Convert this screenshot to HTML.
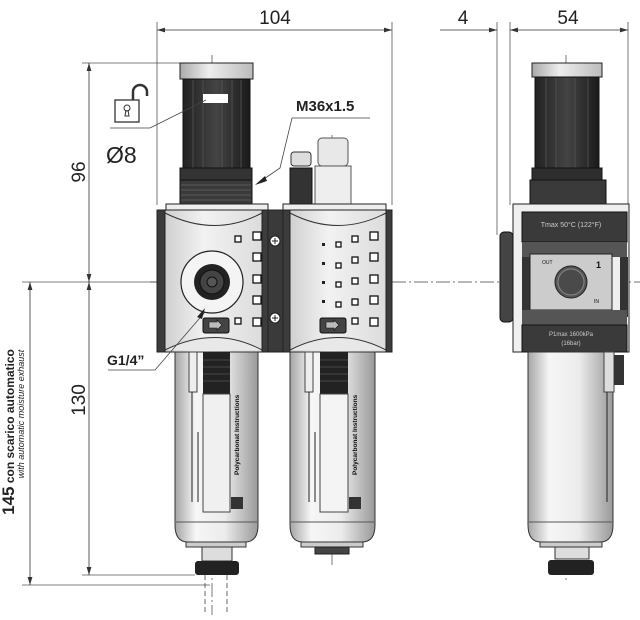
<!DOCTYPE html>
<html><head><meta charset="utf-8"><style>
html,body{margin:0;padding:0;background:#fff;}
svg{display:block;font-family:"Liberation Sans",sans-serif;}
</style></head><body>
<svg width="640" height="620" viewBox="0 0 640 620" xmlns="http://www.w3.org/2000/svg">
<defs>
<linearGradient id="bowl" x1="0" x2="1"><stop offset="0" stop-color="#a5a5a5"/><stop offset="0.25" stop-color="#f6f6f6"/><stop offset="0.6" stop-color="#ececec"/><stop offset="1" stop-color="#999"/></linearGradient>
<linearGradient id="body" x1="0" x2="1"><stop offset="0" stop-color="#d0d0d0"/><stop offset="0.4" stop-color="#f2f2f2"/><stop offset="1" stop-color="#dcdcdc"/></linearGradient>
<linearGradient id="knob" x1="0" x2="1"><stop offset="0" stop-color="#222"/><stop offset="0.5" stop-color="#444"/><stop offset="1" stop-color="#1a1a1a"/></linearGradient>
<linearGradient id="cap" x1="0" x2="1"><stop offset="0" stop-color="#aaa"/><stop offset="0.4" stop-color="#eee"/><stop offset="1" stop-color="#bbb"/></linearGradient>
<marker id="ar" viewBox="0 0 10 6" refX="10" refY="3" markerWidth="10" markerHeight="6" orient="auto-start-reverse"><path d="M0,0L10,3L0,6z" fill="#333"/></marker>
</defs>

<g stroke="#555" stroke-width="0.8" fill="none">
<line x1="157" y1="22" x2="157" y2="205"/><line x1="392" y1="22" x2="392" y2="205"/>
<line x1="497" y1="22" x2="497" y2="235"/><line x1="510" y1="22" x2="510" y2="205"/><line x1="628" y1="22" x2="628" y2="205"/>
<line x1="82" y1="63" x2="182" y2="63"/>
<line x1="22" y1="282" x2="160" y2="282"/>
<line x1="82" y1="575" x2="195" y2="575"/>
<line x1="22" y1="585" x2="210" y2="585"/>
</g>
<g stroke="#333" stroke-width="0.8" fill="none">
<line x1="157" y1="30" x2="392" y2="30" marker-start="url(#ar)" marker-end="url(#ar)"/>
<line x1="440" y1="30" x2="497" y2="30" marker-end="url(#ar)"/>
<line x1="510" y1="30" x2="628" y2="30" marker-start="url(#ar)" marker-end="url(#ar)"/>
<line x1="89" y1="63" x2="89" y2="282" marker-start="url(#ar)" marker-end="url(#ar)"/>
<line x1="89" y1="282" x2="89" y2="575" marker-start="url(#ar)" marker-end="url(#ar)"/>
<line x1="30" y1="282" x2="30" y2="585" marker-start="url(#ar)" marker-end="url(#ar)"/>
</g>
<g font-size="19" fill="#222">
<text x="275" y="24" text-anchor="middle">104</text>
<text x="463" y="24" text-anchor="middle">4</text>
<text x="568" y="24" text-anchor="middle">54</text>
<text transform="translate(85,172) rotate(-90)" text-anchor="middle">96</text>
<text transform="translate(85,400) rotate(-90)" text-anchor="middle">130</text>
</g>
<g transform="translate(14,432) rotate(-90)" fill="#222">
<text x="0" y="0" text-anchor="middle" font-size="12" font-weight="bold"><tspan font-size="17">145</tspan> con scarico automatico</text>
<text x="18" y="10" text-anchor="middle" font-size="9" font-style="italic">with automatic moisture exhaust</text>
</g>

<g stroke="#444" stroke-width="0.7" stroke-dasharray="14,3,2,3" fill="none">
<line x1="150" y1="282" x2="640" y2="282"/>
<line x1="212" y1="55" x2="212" y2="615"/>
<line x1="332" y1="135" x2="332" y2="565"/>
<line x1="566" y1="55" x2="566" y2="580"/>
</g>

<rect x="180" y="63" width="73" height="16" fill="url(#cap)" stroke="#222"/>
<rect x="183" y="79" width="67" height="90" fill="url(#knob)" stroke="#111"/>
<g stroke="#555" stroke-width="0.8"><line x1="193" y1="80" x2="193" y2="168"/><line x1="203" y1="80" x2="203" y2="168"/><line x1="222" y1="80" x2="222" y2="168"/><line x1="232" y1="80" x2="232" y2="168"/><line x1="241" y1="80" x2="241" y2="168"/></g>
<rect x="203" y="94" width="25" height="9" fill="#fff"/>
<rect x="180" y="168" width="72" height="12" fill="#333" stroke="#111"/>
<rect x="180" y="180" width="72" height="24" fill="#3a3a3a" stroke="#111"/>
<g stroke="#666" stroke-width="0.7"><line x1="181" y1="185" x2="251" y2="185"/><line x1="181" y1="190" x2="251" y2="190"/><line x1="181" y1="195" x2="251" y2="195"/><line x1="181" y1="200" x2="251" y2="200"/></g>
<rect x="291" y="152" width="20" height="14" rx="3" fill="#ddd" stroke="#333"/>
<rect x="290" y="168" width="22" height="36" fill="#333" stroke="#111"/>
<rect x="318" y="138" width="30" height="28" rx="4" fill="#e8e8e8" stroke="#555"/>
<rect x="315" y="166" width="36" height="38" fill="#eee" stroke="#555"/>

<g stroke="#222" stroke-width="1">
<rect x="166" y="204" width="102" height="8" fill="#eee"/>
<rect x="283" y="204" width="103" height="8" fill="#eee"/>
<rect x="157" y="210" width="111" height="142" fill="#3c3c3c"/>
<rect x="165" y="210" width="97" height="142" fill="url(#body)"/>
<rect x="268" y="210" width="15" height="142" fill="#3a3a3a"/>
<rect x="283" y="210" width="109" height="142" fill="#3c3c3c"/>
<rect x="290" y="210" width="96" height="142" fill="url(#body)"/>
</g>
<path d="M165,213 Q215,238 262,213" fill="none" stroke="#333"/>
<path d="M290,213 Q338,238 386,213" fill="none" stroke="#333"/>
<path d="M165,350 Q215,325 262,350" fill="#e8e8e8" stroke="#333"/>
<path d="M290,350 Q338,325 386,350" fill="#e8e8e8" stroke="#333"/>
<g fill="#fff" stroke="#222"><circle cx="275" cy="241" r="5"/><circle cx="275" cy="318" r="5"/></g>
<g stroke="#222"><line x1="272" y1="241" x2="278" y2="241"/><line x1="275" y1="238" x2="275" y2="244"/><line x1="272" y1="318" x2="278" y2="318"/><line x1="275" y1="315" x2="275" y2="321"/></g>
<g fill="#fff" stroke="#111" stroke-width="1.3">
<rect x="253" y="232" width="8" height="8"/><rect x="253" y="253" width="8" height="8"/><rect x="253" y="275" width="8" height="8"/><rect x="253" y="296" width="8" height="8"/><rect x="253" y="318" width="8" height="8"/>
<rect x="235" y="236" width="6" height="6"/><rect x="235" y="318" width="6" height="6"/>
<rect x="370" y="232" width="8" height="8"/><rect x="370" y="253" width="8" height="8"/><rect x="370" y="275" width="8" height="8"/><rect x="370" y="296" width="8" height="8"/><rect x="370" y="318" width="8" height="8"/>
<rect x="352" y="236" width="6" height="6"/><rect x="352" y="257" width="6" height="6"/><rect x="352" y="278" width="6" height="6"/><rect x="352" y="299" width="6" height="6"/><rect x="352" y="318" width="6" height="6"/>
<rect x="336" y="242" width="5" height="5"/><rect x="336" y="263" width="5" height="5"/><rect x="336" y="282" width="5" height="5"/><rect x="336" y="302" width="5" height="5"/>
</g>
<g fill="#222"><rect x="322" y="243" width="3" height="3"/><rect x="322" y="262" width="3" height="3"/><rect x="322" y="281" width="3" height="3"/><rect x="322" y="300" width="3" height="3"/></g>
<circle cx="212" cy="282" r="31" fill="#f4f4f4" stroke="#222" stroke-width="1.2"/>
<circle cx="212" cy="282" r="18" fill="#222"/>
<circle cx="212" cy="282" r="12" fill="#444" stroke="#111"/>
<circle cx="212" cy="282" r="5" fill="#555" stroke="#111"/>
<rect x="203" y="318" width="26" height="15" rx="2" fill="#444" stroke="#111"/>
<path d="M209,322h8v-2l5,5l-5,5v-2h-8z" fill="#bbb" stroke="#111" stroke-width="0.6"/>
<rect x="320" y="318" width="26" height="15" rx="2" fill="#444" stroke="#111"/>
<path d="M326,322h8v-2l5,5l-5,5v-2h-8z" fill="#bbb" stroke="#111" stroke-width="0.6"/>

<path d="M175,352 H258 V525 Q258,542 245,542 H188 Q175,542 175,525 Z" fill="url(#bowl)" stroke="#333"/>
<path d="M290,352 H375 V525 Q375,542 362,542 H303 Q290,542 290,525 Z" fill="url(#bowl)" stroke="#333"/>
<rect x="203" y="352" width="27" height="42" fill="#222"/>
<rect x="320" y="352" width="28" height="42" fill="#222"/>
<g stroke="#555" stroke-width="0.7"><line x1="203" y1="360" x2="230" y2="360"/><line x1="203" y1="367" x2="230" y2="367"/><line x1="203" y1="374" x2="230" y2="374"/><line x1="203" y1="381" x2="230" y2="381"/><line x1="320" y1="360" x2="348" y2="360"/><line x1="320" y1="367" x2="348" y2="367"/><line x1="320" y1="374" x2="348" y2="374"/><line x1="320" y1="381" x2="348" y2="381"/></g>
<rect x="203" y="394" width="27" height="118" fill="#f0f0f0" stroke="#444"/>
<rect x="320" y="394" width="28" height="118" fill="#f4f4f4" stroke="#444"/>
<rect x="189" y="352" width="8" height="40" fill="#eee" stroke="#444"/>
<rect x="305" y="352" width="8" height="40" fill="#eee" stroke="#444"/>
<g stroke="#222" stroke-width="1"><line x1="192" y1="392" x2="192" y2="502"/><line x1="198" y1="432" x2="198" y2="502"/><line x1="309" y1="392" x2="309" y2="502"/><line x1="315" y1="432" x2="315" y2="502"/></g>
<text transform="translate(239,475) rotate(-90)" font-size="6.5" font-weight="bold" fill="#111">Polycarbonat Instructions</text>
<text transform="translate(357,475) rotate(-90)" font-size="6.5" font-weight="bold" fill="#111">Polycarbonat Instructions</text>
<rect x="231" y="497" width="12" height="12" fill="#333"/><rect x="349" y="497" width="12" height="12" fill="#333"/>
<line x1="176" y1="522" x2="257" y2="522" stroke="#555"/><line x1="291" y1="522" x2="374" y2="522" stroke="#555"/>
<rect x="186" y="542" width="60" height="5" fill="#ccc" stroke="#333"/>
<rect x="301" y="542" width="62" height="5" fill="#ccc" stroke="#333"/>
<rect x="202" y="547" width="30" height="14" fill="#ddd" stroke="#333"/>
<rect x="195" y="561" width="44" height="14" rx="3" fill="#222"/>
<rect x="315" y="547" width="34" height="7" fill="#444" stroke="#222"/>
<g stroke="#444" stroke-dasharray="5,3" stroke-width="0.8"><line x1="205" y1="575" x2="205" y2="612"/><line x1="227" y1="575" x2="227" y2="612"/></g>

<rect x="532" y="63" width="70" height="14" fill="url(#cap)" stroke="#222"/>
<rect x="535" y="77" width="64" height="92" fill="url(#knob)" stroke="#111"/>
<g stroke="#555" stroke-width="0.8"><line x1="546" y1="78" x2="546" y2="168"/><line x1="556" y1="78" x2="556" y2="168"/><line x1="575" y1="78" x2="575" y2="168"/><line x1="588" y1="78" x2="588" y2="168"/></g>
<rect x="532" y="168" width="70" height="12" fill="#2e2e2e" stroke="#111"/>
<rect x="530" y="180" width="76" height="24" fill="#3a3a3a" stroke="#111"/>
<rect x="513" y="204" width="116" height="148" fill="#efefef" stroke="#222"/>
<rect x="500" y="232" width="13" height="90" rx="4" fill="#444" stroke="#111"/>
<rect x="522" y="212" width="105" height="30" fill="#3a3a3a" stroke="#111"/>
<text x="571" y="227" text-anchor="middle" font-size="7" fill="#ccc">Tmax 50°C (122°F)</text>
<rect x="522" y="242" width="105" height="15" fill="#555"/>
<rect x="522" y="257" width="8" height="60" fill="#333"/><rect x="620" y="257" width="8" height="60" fill="#333"/>
<rect x="530" y="254" width="82" height="56" fill="#ccc" stroke="#222"/>
<text x="542" y="264" font-size="5" fill="#111">OUT</text>
<text x="596" y="268" font-size="9" font-weight="bold" fill="#111">1</text>
<text x="594" y="303" font-size="5" fill="#111">IN</text>
<circle cx="571" cy="282" r="16" fill="#555" stroke="#222"/>
<circle cx="571" cy="282" r="13" fill="#4a4a4a" stroke="#888"/>
<rect x="522" y="310" width="105" height="15" fill="#555"/>
<rect x="522" y="325" width="105" height="27" fill="#3a3a3a" stroke="#111"/>
<text x="571" y="336" text-anchor="middle" font-size="6" fill="#ccc">P1max 1600kPa</text>
<text x="571" y="345" text-anchor="middle" font-size="6" fill="#ccc">(16bar)</text>
<path d="M528,352 H613 V525 Q613,542 600,542 H541 Q528,542 528,525 Z" fill="url(#bowl)" stroke="#333"/>
<line x1="529" y1="522" x2="612" y2="522" stroke="#555"/>
<rect x="604" y="352" width="10" height="40" fill="#ddd" stroke="#444"/>
<rect x="614" y="355" width="10" height="30" fill="#333"/>
<line x1="607" y1="392" x2="607" y2="502" stroke="#222"/>
<rect x="540" y="542" width="62" height="5" fill="#ccc" stroke="#333"/>
<rect x="555" y="547" width="34" height="12" fill="#ddd" stroke="#333"/>
<rect x="548" y="560" width="46" height="15" rx="3" fill="#222"/>

<g stroke="#444" stroke-width="0.8" fill="none">
<polyline points="370,118 292,118 280,168 258,183"/>
<polyline points="110,128 150,128 206,100"/>
<polyline points="108,370 155,370 205,312"/>
</g>
<path d="M255,185 l10,-9 l2,5z" fill="#222"/>
<path d="M205,308 l-8,9 l5,2z" fill="#222"/>
<text x="296" y="111" font-size="15" font-weight="bold" fill="#222">M36x1.5</text>
<text x="106" y="163" font-size="23" fill="#222">Ø8</text>
<text x="107" y="365" font-size="14" font-weight="bold" fill="#222">G1/4”</text>
<rect x="115" y="100" width="24" height="22" fill="#fff" stroke="#333" stroke-width="1.3"/>
<path d="M133,100 v-8 a7,7 0 0 1 14,0 v4" fill="none" stroke="#333" stroke-width="2.5"/>
<circle cx="127" cy="108" r="3" fill="none" stroke="#333"/><path d="M126,110 l-1,6 h4 l-1,-6" fill="none" stroke="#333"/>
</svg>
</body></html>
